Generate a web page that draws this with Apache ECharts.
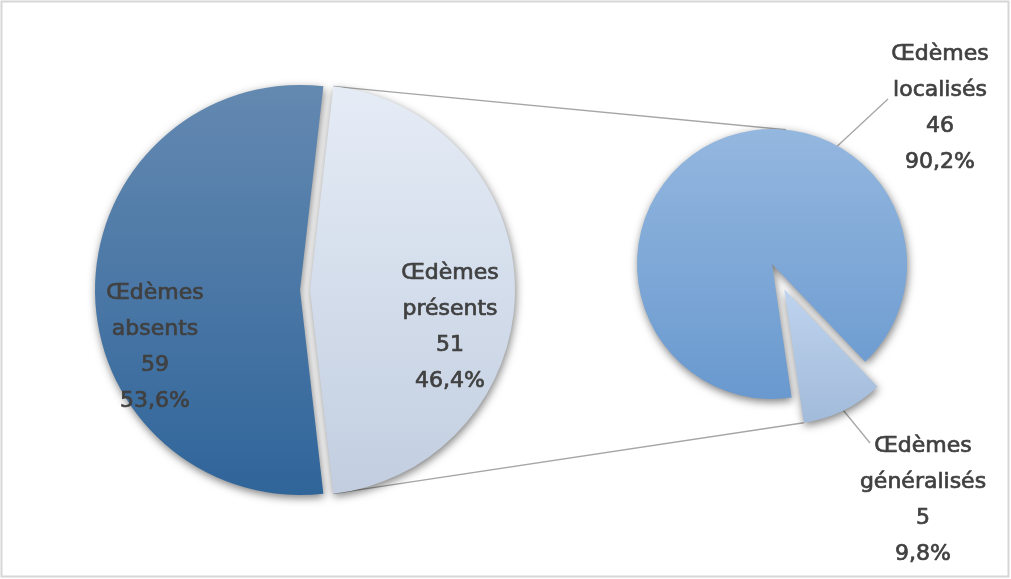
<!DOCTYPE html>
<html>
<head>
<meta charset="utf-8">
<title>Œdèmes</title>
<script src="https://cdn.jsdelivr.net/npm/echarts@6/dist/echarts.min.js"></script>
<style>
  html, body { margin: 0; padding: 0; background: #ffffff; }
  #chart { width: 1011px; height: 579px; }
</style>
</head>
<body>
<div id="chart"></div>
<script>
// Main pie: presence of oedema
const mainCategories = ['Œdèmes absents', 'Œdèmes présents'];
const mainValues = [59, 51];

// Secondary pie: breakdown of the "présents" slice
const subCategories = ['Œdèmes localisés', 'Œdèmes généralisés'];
const subValues = [46, 5];

// Layout (pixels)
const MAIN = { cx: 300, cy: 290, r: 205, offset: 10 };
const SUB = { cx: 772, cy: 264, r: 135, offset: 28, detachedMid: -64, topLinkDeg: 84 };
const mainLabelPos = [[155, 347], [450, 327]];
const subLabelPos = [[940, 108], [923, 500]];
const subLeaderEnd = [[888, 99], [870, 443]];
const subLeaderStartDeg = 61;

// Vertical gradients per slice [top, bottom]
const mainColors = [['#6489b1', '#30659a'], ['#e5ecf6', '#c2cee0']];
const subColors = [['#94b7df', '#6999cf'], ['#bed3ee', '#a2bbda']];

const TEXT = '#404040';
const FONT = 'DejaVu Sans';

const sum = a => a.reduce((s, v) => s + v, 0);
const rad = d => d * Math.PI / 180;
const pt = (cx, cy, r, deg) => [cx + r * Math.cos(rad(deg)), cy - r * Math.sin(rad(deg))];

function grad(c) {
  return new echarts.graphic.LinearGradient(0, 0, 0, 1, [
    { offset: 0, color: c[0] },
    { offset: 1, color: c[1] }
  ]);
}

// Angles
const mainTotal = sum(mainValues);
const absentDeg = mainValues[0] / mainTotal * 360;
const presDeg = mainValues[1] / mainTotal * 360;
const mainStart = 180 + absentDeg / 2;          // absent centred on the left
const presMid = 0;                                // présents centred on the right

const subTotal = sum(subValues);
const locDeg = subValues[0] / subTotal * 360;
const genDeg = subValues[1] / subTotal * 360;
const subStart = SUB.detachedMid + genDeg / 2 + locDeg;

// Centres of the detached slices
const presC = pt(MAIN.cx, MAIN.cy, MAIN.offset, presMid);
const genC = pt(SUB.cx, SUB.cy, SUB.offset, SUB.detachedMid);

// Connector lines between the two pies
const linkTopA = pt(presC[0], presC[1], MAIN.r, presMid + presDeg / 2);
const linkBotA = pt(presC[0], presC[1], MAIN.r, presMid - presDeg / 2);
const linkTopB = pt(SUB.cx, SUB.cy, SUB.r, SUB.topLinkDeg);
const linkBotB = pt(genC[0], genC[1], SUB.r, SUB.detachedMid - genDeg / 2);

// Leader lines for the secondary pie labels
const leaderStarts = [
  pt(SUB.cx, SUB.cy, SUB.r, subLeaderStartDeg),
  pt(genC[0], genC[1], SUB.r, SUB.detachedMid)
];

function fmt(p) {
  const pct = p.percent.toFixed(1).replace('.', ',');
  return p.name.replace(' ', '\n') + '\n' + p.value + '\n' + pct + '%';
}

const shadow = {
  shadowBlur: 9,
  shadowColor: 'rgba(0,0,0,0.5)',
  shadowOffsetX: 1,
  shadowOffsetY: 3,
  borderWidth: 0
};

const labelBase = {
  show: true,
  position: 'inside',
  formatter: fmt,
  color: TEXT,
  fontFamily: FONT,
  fontSize: 22,
  lineHeight: 36,
  align: 'center',
  textBorderColor: TEXT,
  textBorderWidth: 0.7
};

// One layer of a pie: only the slice(s) listed in `shown` are painted,
// the others keep their angular room but stay invisible.
function layer(names, values, colors, shown) {
  return names.map((n, i) => {
    const on = shown.indexOf(i) >= 0;
    return {
      name: n,
      value: values[i],
      itemStyle: on ? Object.assign({ color: grad(colors[i]) }, shadow) : { color: 'rgba(0,0,0,0)' },
      label: { show: on }
    };
  });
}

function pieSeries(center, r, start, names, values, colors, shown, labelPos) {
  return {
    type: 'pie',
    silent: true,
    center: center,
    radius: [0, r],
    startAngle: start,
    clockwise: true,
    avoidLabelOverlap: false,
    percentPrecision: 1,
    emphasis: { disabled: true },
    label: labelBase,
    labelLine: { show: false },
    labelLayout: p => ({ x: labelPos[p.dataIndex][0], y: labelPos[p.dataIndex][1], align: 'center', verticalAlign: 'middle' }),
    data: layer(names, values, colors, shown)
  };
}

const lineStyle = { stroke: '#a6a6a6', lineWidth: 1.3 };
const seg = (a, b) => ({ type: 'line', silent: true, shape: { x1: a[0], y1: a[1], x2: b[0], y2: b[1] }, style: lineStyle });

const option = {
  animation: false,
  backgroundColor: '#ffffff',
  graphic: [
    { type: 'rect', silent: true, shape: { x: 1.5, y: 1.5, width: 1007, height: 575 },
      style: { fill: 'none', stroke: '#d6d6d6', lineWidth: 2 } },
    seg(linkTopA, linkTopB),
    seg(linkBotA, linkBotB),
    seg(leaderStarts[0], subLeaderEnd[0]),
    seg(leaderStarts[1], subLeaderEnd[1])
  ],
  series: [
    pieSeries([MAIN.cx, MAIN.cy], MAIN.r, mainStart, mainCategories, mainValues, mainColors, [0], mainLabelPos),
    pieSeries(presC, MAIN.r, mainStart, mainCategories, mainValues, mainColors, [1], mainLabelPos),
    pieSeries([SUB.cx, SUB.cy], SUB.r, subStart, subCategories, subValues, subColors, [0], subLabelPos),
    pieSeries(genC, SUB.r, subStart, subCategories, subValues, subColors, [1], subLabelPos)
  ]
};

const chart = echarts.init(document.getElementById('chart'), null, { renderer: 'canvas' });
chart.setOption(option);
</script>
</body>
</html>
